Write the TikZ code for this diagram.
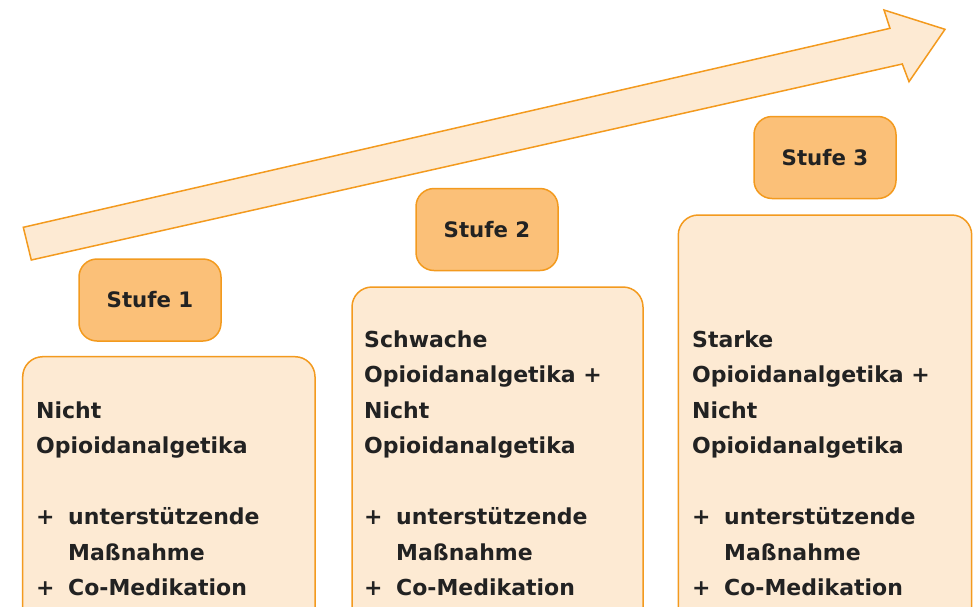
\documentclass[tikz,border=0pt]{standalone}
\usepackage{fontspec}
\setmainfont{DejaVu Sans}
\definecolor{edgeor}{HTML}{F39A1E}
\definecolor{lightfill}{HTML}{FDEAD3}
\definecolor{stufefill}{HTML}{FBC078}
\definecolor{txt}{HTML}{222222}
\tikzset{
  bigbox/.style={draw=edgeor, fill=lightfill, line width=1.5pt, rounded corners=20pt},
  stufebox/.style={draw=edgeor, fill=stufefill, line width=1.5pt, rounded corners=18pt, minimum width=142pt, minimum height=82pt, inner sep=0pt, font=\fontsize{21.3}{25}\selectfont\bfseries, text=txt},
  bodytext/.style={anchor=base west, inner sep=0pt, align=left, text=txt, font=\fontsize{22}{35.5}\selectfont\bfseries},
}
\newcommand{\pluslead}{\makebox[32pt][l]{+}}
\begin{document}
\begin{tikzpicture}[x=1pt,y=-1pt]
\useasboundingbox (0,0) rectangle (975,606);
\clip (0,0) rectangle (975,606);
% arrow
\draw[draw=edgeor, fill=lightfill, line width=1.5pt, line join=miter]
  (23.3,227.3) -- (890,28.3) -- (884,10) -- (945,29.3) -- (909,81.7) -- (902.3,64) -- (31.3,260) -- cycle;
% big boxes
\path[bigbox] (22.7,356.7) rectangle (315,640);
\path[bigbox] (352,287) rectangle (643,640);
\path[bigbox] (678.3,215) rectangle (971.7,640);
% stufe boxes
\node[stufebox] (s1) at (150,300) {Stufe 1};
\node[stufebox] (s2) at (487,229.5) {Stufe 2};
\node[stufebox] (s3) at (825,157.5) {Stufe 3};
% body texts (anchored at the baseline of the last line)
\node[bodytext] (b1) at (36,595.5) {Nicht\\Opioidanalgetika\\ \\\pluslead unterstützende\\\hspace*{32pt}Maßnahme\\\pluslead Co-Medikation};
\node[bodytext] (b2) at (364,595.5) {Schwache\\Opioidanalgetika +\\Nicht\\Opioidanalgetika\\ \\\pluslead unterstützende\\\hspace*{32pt}Maßnahme\\\pluslead Co-Medikation};
\node[bodytext] (b3) at (692,595.5) {Starke\\Opioidanalgetika +\\Nicht\\Opioidanalgetika\\ \\\pluslead unterstützende\\\hspace*{32pt}Maßnahme\\\pluslead Co-Medikation};
\end{tikzpicture}
\end{document}
